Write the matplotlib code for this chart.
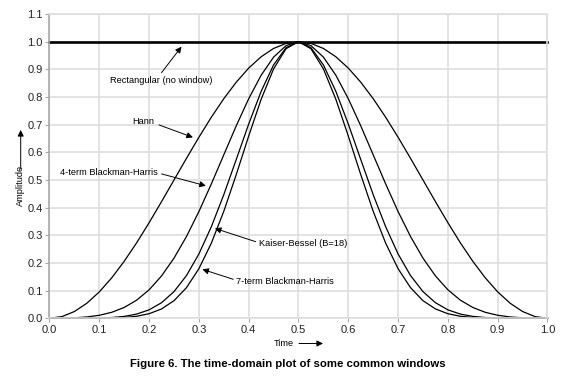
import numpy as np
import matplotlib
matplotlib.use("Agg")
import matplotlib.pyplot as plt

plt.rcParams['font.family'] = ['Liberation Sans', 'DejaVu Sans']

# time axis, 0 .. 1 in steps of 0.025
time = [i / 40 for i in range(41)]

# values (left half up to the peak, right half mirrored by eye)
hann = [0.0, 0.0062, 0.0245, 0.0545, 0.0955, 0.1464, 0.2061, 0.2730, 0.3455, 0.4218,
        0.5, 0.5782, 0.6545, 0.7270, 0.7939, 0.8536, 0.9045, 0.9455, 0.9755, 0.9938,
        1.0,
        0.9938, 0.9755, 0.9455, 0.9045, 0.8536, 0.7939, 0.7270, 0.6545, 0.5782, 0.5,
        0.4218, 0.3455, 0.2730, 0.2061, 0.1464, 0.0955, 0.0545, 0.0245, 0.0062, 0.0]
bh4 = [0.0001, 0.0004, 0.0018, 0.0049, 0.0110, 0.0217, 0.0392, 0.0656, 0.1030, 0.1533,
       0.2175, 0.2955, 0.3859, 0.4859, 0.5910, 0.6958, 0.7938, 0.8787, 0.9443, 0.9858,
       1.0,
       0.9858, 0.9443, 0.8787, 0.7938, 0.6958, 0.5910, 0.4859, 0.3859, 0.2955, 0.2175,
       0.1533, 0.1030, 0.0656, 0.0392, 0.0217, 0.0110, 0.0049, 0.0018, 0.0004, 0.0001]
kaiser = [0.0, 0.0, 0.0001, 0.0003, 0.0010, 0.0028, 0.0069, 0.0153, 0.0306, 0.0564,
          0.0965, 0.1544, 0.2326, 0.3311, 0.4470, 0.5740, 0.7023, 0.8205, 0.9160, 0.9783,
          1.0,
          0.9783, 0.9160, 0.8205, 0.7023, 0.5740, 0.4470, 0.3311, 0.2326, 0.1544, 0.0965,
          0.0564, 0.0306, 0.0153, 0.0069, 0.0028, 0.0010, 0.0003, 0.0001, 0.0, 0.0]
bh7 = [0.0, 0.0, 0.0, 0.0, 0.0003, 0.0010, 0.0029, 0.0074, 0.0166, 0.0339,
       0.0637, 0.1107, 0.1793, 0.2717, 0.3869, 0.5195, 0.6591, 0.7917, 0.9017, 0.9745,
       1.0,
       0.9745, 0.9017, 0.7917, 0.6591, 0.5195, 0.3869, 0.2717, 0.1793, 0.1107, 0.0637,
       0.0339, 0.0166, 0.0074, 0.0029, 0.0010, 0.0003, 0.0, 0.0, 0.0, 0.0]
rect = [1.0] * len(time)

fig = plt.figure(figsize=(5.67, 3.83), dpi=100)
ax = fig.add_axes([0.0873, 0.1689, 0.8783, 0.7945])

gridc = '#dedede'
ax.set_xlim(0, 1.0)
ax.set_ylim(0, 1.1)
ax.set_xticks(np.arange(0, 1.01, 0.1))
ax.set_yticks(np.arange(0, 1.11, 0.1))
ax.set_xticklabels(['%.1f' % v for v in np.arange(0, 1.01, 0.1)])
ax.set_yticklabels(['%.1f' % v for v in np.arange(0, 1.11, 0.1)])
ax.grid(True, color=gridc, lw=1.2)
ax.set_axisbelow(True)
for s in ax.spines.values():
    s.set_color(gridc)
    s.set_linewidth(1.2)
ax.spines['left'].set_color('#a8a8a8')
ax.tick_params(length=3, width=0.8, color='#a8a8a8', labelsize=8,
               labelcolor='#222222', pad=2)

ax.plot(time, rect, color='black', lw=1.9, clip_on=False)
for w in [hann, bh4, kaiser, bh7]:
    ax.plot(time, w, color='black', lw=0.9, clip_on=False)

arrow = dict(arrowstyle='-|>', color='black', lw=0.7, mutation_scale=9,
             shrinkA=0, shrinkB=0)
fs = 6.7
ax.annotate('', xy=(0.265, 0.982), xytext=(0.225, 0.888), arrowprops=arrow)
ax.text(0.224, 0.858, 'Rectangular (no window)', fontsize=fs, ha='center', va='center')
ax.annotate('', xy=(0.288, 0.654), xytext=(0.220, 0.699), arrowprops=arrow)
ax.text(0.188, 0.711, 'Hann', fontsize=fs, ha='center', va='center')
ax.annotate('', xy=(0.314, 0.479), xytext=(0.225, 0.522), arrowprops=arrow)
ax.text(0.218, 0.528, '4-term Blackman-Harris', fontsize=fs, ha='right', va='center')
ax.annotate('', xy=(0.332, 0.325), xytext=(0.414, 0.277), arrowprops=arrow)
ax.text(0.421, 0.271, 'Kaiser-Bessel (B=18)', fontsize=fs, ha='left', va='center')
ax.annotate('', xy=(0.307, 0.177), xytext=(0.369, 0.141), arrowprops=arrow)
ax.text(0.3755, 0.132, '7-term Blackman-Harris', fontsize=fs, ha='left', va='center')

# axis labels with their arrows (figure pixels, origin bottom-left)
H = 383
fig.text(274 / 567, (H - 343.5) / H, 'Time', fontsize=fs, ha='left', va='center')
ax.annotate('', xy=(323, H - 343.5), xytext=(299, H - 343.5), xycoords='figure pixels',
            textcoords='figure pixels', arrowprops=arrow)
fig.text(20.7 / 567, (H - 185) / H, 'Amplitude', fontsize=fs, rotation=90,
         ha='center', va='center')
ax.annotate('', xy=(20.7, H - 130), xytext=(20.7, H - 169), xycoords='figure pixels',
            textcoords='figure pixels', arrowprops=arrow)

fig.text(288 / 567, (H - 364) / H, 'Figure 6. The time-domain plot of some common windows',
         fontsize=8.2, fontweight='bold', ha='center', va='center')

fig.savefig('out.png', dpi=100)
